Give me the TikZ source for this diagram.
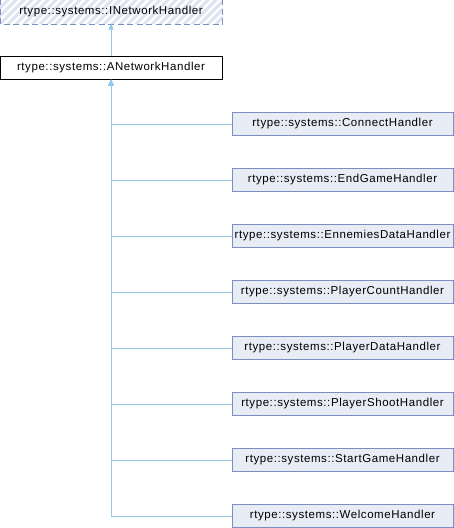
\documentclass[tikz,border=0pt]{standalone}
\usepackage{fontspec}
\setmainfont{Liberation Sans}
\newfontfamily\doxfont[LetterSpace=5]{Liberation Sans}
\usetikzlibrary{arrows.meta}

\definecolor{boxborder}{HTML}{7B8EC0}
\definecolor{boxfill}{HTML}{E8ECF5}
\definecolor{edgeblue}{HTML}{96C8E8}
\definecolor{hatchblue}{HTML}{DDE4F0}

\tikzset{
  box/.style={minimum height=23pt, inner sep=0pt, line width=1pt,
    font=\doxfont\fontsize{11.5}{14}\selectfont},
  cls/.style={box, draw=boxborder, fill=boxfill, minimum width=221pt},
  base/.style={box, draw=black, fill=white, minimum width=222pt},
  iface/.style={box, fill=white, minimum width=222pt},
  ifaceborder/.style={draw=boxborder, line width=1pt, dash pattern=on 6pt off 3.5pt},
  hatch/.style={draw=hatchblue, line width=3pt},
  edge/.style={draw=edgeblue, line width=1pt, {Triangle[length=6pt,width=5pt]}-}
}

\begin{document}
\begin{tikzpicture}[x=1pt, y=-1pt]
  \useasboundingbox (0,0) rectangle (454,528);

  \node[iface] (INetworkHandler) at (111,11.5) {};
  \begin{scope}
    \clip (INetworkHandler.south west) rectangle (INetworkHandler.north east);
    \foreach \k in {-24,-16,...,224}
      \draw[hatch] (\k,24) -- ++(25,-25);
  \end{scope}
  \draw[ifaceborder] ([shift={(0.5pt,-0.5pt)}]INetworkHandler.south west)
    rectangle ([shift={(-0.5pt,0.5pt)}]INetworkHandler.north east);
  \node[box] at (INetworkHandler) {rtype::systems::INetworkHandler};

  \node[base] (ANetworkHandler) at (111,67.5) {rtype::systems::ANetworkHandler};
  \draw[edge] (INetworkHandler.south) -- (ANetworkHandler.north);

  % derived handlers
  \foreach \name [count=\i from 0] in {ConnectHandler, EndGameHandler, EnnemiesDataHandler,
      PlayerCountHandler, PlayerDataHandler, PlayerShootHandler, StartGameHandler, WelcomeHandler} {
    \node[cls] (\name) at (342.5,124+56*\i) {rtype::systems::\name};
    \draw[edge] (ANetworkHandler.south) |- (\name.west);
  }
\end{tikzpicture}
\end{document}
